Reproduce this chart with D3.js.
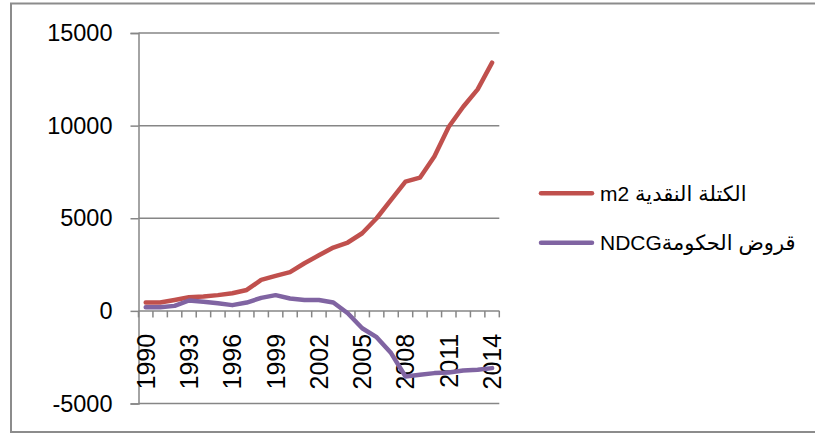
<!DOCTYPE html>
<html>
<head>
<meta charset="utf-8">
<script src="https://cdn.jsdelivr.net/npm/d3@7"></script>
<style>
  html, body { margin: 0; padding: 0; background: #fff; }
  svg { display: block; }
</style>
</head>
<body>
<svg id="chart" width="815" height="434"></svg>
<script>
// Years on the category axis
const years = ["1990","1991","1992","1993","1994","1995","1996","1997","1998","1999",
               "2000","2001","2002","2003","2004","2005","2006","2007","2008","2009",
               "2010","2011","2012","2013","2014"];
// Labels shown under the axis (every third year)
const yearLabels = ["1990","1993","1996","1999","2002","2005","2008","2011","2014"];
// Money supply M2
const m2Values = [450, 450, 590, 740, 770, 850, 950, 1130, 1670, 1890,
                  2090, 2570, 3000, 3420, 3690, 4190, 5000, 5990, 6980, 7190,
                  8330, 9940, 11020, 11960, 13400];
// Net credit to government NDCG
const ndcgValues = [200, 200, 270, 560, 490, 410, 310, 450, 700, 850,
                    670, 590, 590, 450, -130, -940, -1420, -2280, -3540, -3450,
                    -3360, -3330, -3220, -3180, -3090];
// Value axis ticks
const yTicks = [-5000, 0, 5000, 10000, 15000];
// Legend entries
const seriesNames = ["الكتلة النقدية m2", "قروض الحكومةNDCG"];
const seriesColors = ["#C0504D", "#8064A2"];

const svg = d3.select("#chart");
const gray = "#868686";
const font = "'Liberation Sans', Arial, 'DejaVu Sans', sans-serif";

// Outer chart frame
svg.append("rect")
  .attr("x", 11).attr("y", 3.5)
  .attr("width", 830).attr("height", 428.5)
  .attr("fill", "none").attr("stroke", "#8c8c8c").attr("stroke-width", 2);

const x = d3.scaleBand().domain(years).range([138.5, 499.3]).paddingInner(0).paddingOuter(0);
const y = d3.scaleLinear().domain([-5000, 15000]).range([403.5, 33]);
const cx = d => x(d) + x.bandwidth() / 2;

// Horizontal gridlines
svg.append("g").selectAll("line").data(yTicks.filter(v => v !== 0)).join("line")
  .attr("x1", 138.5).attr("x2", 499.3)
  .attr("y1", d => y(d)).attr("y2", d => y(d))
  .attr("stroke", gray).attr("stroke-width", 1.5);

// Value axis (plain hyphen for negatives)
const yAxis = d3.axisLeft(y).tickValues(yTicks).tickSize(8).tickPadding(18).tickFormat(d => String(d));
const gy = svg.append("g").attr("transform", "translate(138.5,0)").call(yAxis);
gy.select(".domain").attr("stroke", gray).attr("stroke-width", 1.5);
gy.selectAll(".tick line").attr("stroke", gray).attr("stroke-width", 1.5);
gy.selectAll(".tick text")
  .attr("fill", "#000").style("font-family", font).style("font-size", "23.5px");

// Category axis at zero
const boundaries = years.map(d => x(d)).concat([x.range()[1]]);
const gx = svg.append("g");
gx.append("line")
  .attr("x1", 138.5).attr("x2", 499.3).attr("y1", y(0)).attr("y2", y(0))
  .attr("stroke", gray).attr("stroke-width", 1.5);
gx.selectAll("line.tk").data(boundaries).join("line").attr("class", "tk")
  .attr("x1", d => d).attr("x2", d => d)
  .attr("y1", y(0)).attr("y2", y(0) + 6.5)
  .attr("stroke", gray).attr("stroke-width", 1.5);
gx.selectAll("text").data(yearLabels).join("text")
  .attr("transform", d => `translate(${cx(d)},${y(0) + 23}) rotate(-90)`)
  .attr("text-anchor", "end").attr("dy", "0.36em")
  .attr("fill", "#000").style("font-family", font).style("font-size", "25px")
  .text(d => d);

// Series lines
const line = d3.line().x((d, i) => cx(years[i])).y(d => y(d));
[m2Values, ndcgValues].forEach((vals, k) => {
  svg.append("path").datum(vals)
    .attr("d", line)
    .attr("fill", "none").attr("stroke", seriesColors[k])
    .attr("stroke-width", 4.5)
    .attr("stroke-linejoin", "round").attr("stroke-linecap", "round");
});

// Legend
const lg = svg.append("g");
const legendY = [193.3, 242.7];
seriesNames.forEach((name, k) => {
  lg.append("line")
    .attr("x1", 541).attr("x2", 592).attr("y1", legendY[k]).attr("y2", legendY[k])
    .attr("stroke", seriesColors[k]).attr("stroke-width", 4.5).attr("stroke-linecap", "round");
  lg.append("text")
    .attr("x", 600).attr("y", legendY[k]).attr("dy", "0.36em")
    .attr("direction", "rtl").attr("text-anchor", "end")
    .style("unicode-bidi", "embed")
    .attr("fill", "#000").style("font-family", font).style("font-size", "21px")
    .text(name);
});
</script>
</body>
</html>
